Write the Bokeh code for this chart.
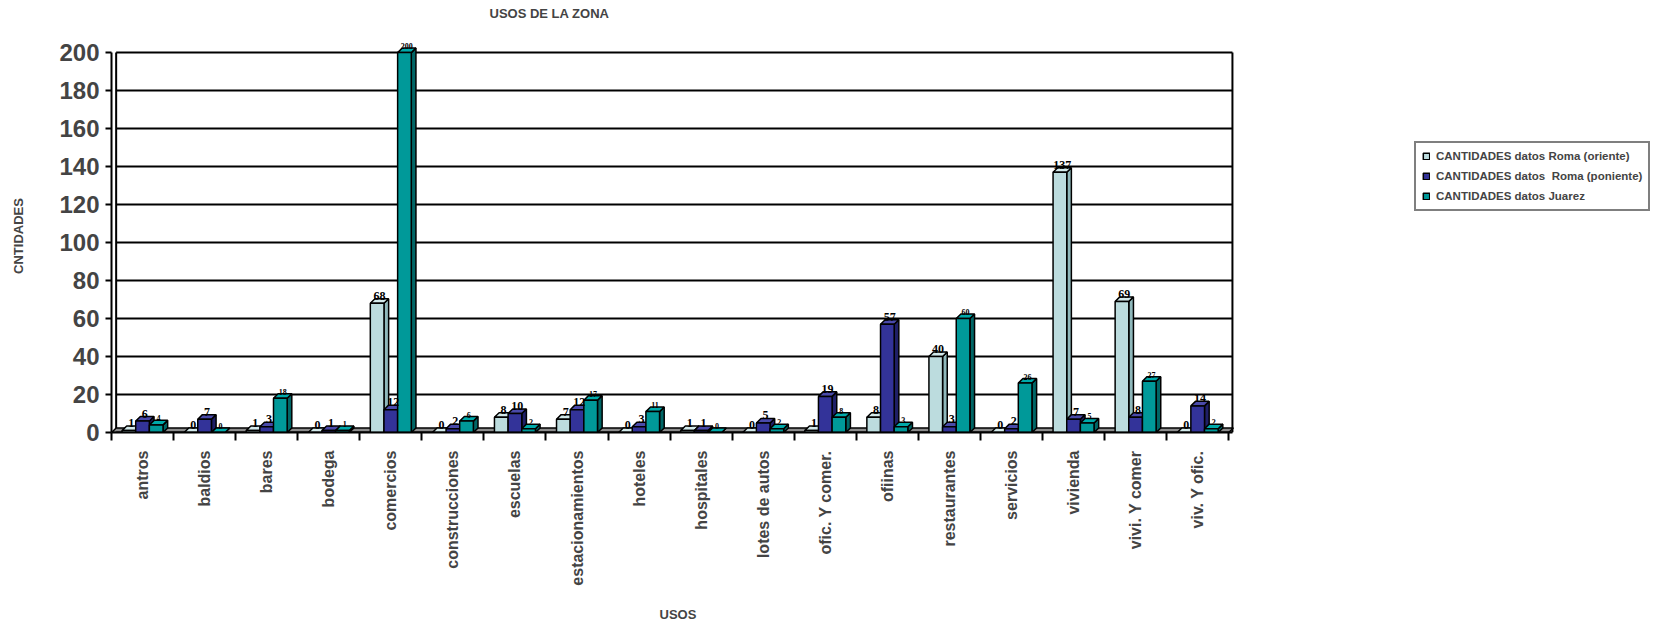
import numpy as np
from bokeh.plotting import figure
from bokeh.models import (ColumnDataSource, Range1d, FixedTicker, Legend,
                          LegendItem, Title, LabelSet)
from bokeh.embed import file_html
from bokeh.resources import INLINE

# Land uses per zone
usos = ["antros", "baldios", "bares", "bodega", "comercios", "construcciones",
        "escuelas", "estacionamientos", "hoteles", "hospitales", "lotes de autos",
        "ofic. Y comer.", "ofiinas", "restaurantes", "servicios", "vivienda",
        "vivi. Y comer", "viv. Y ofic."]
roma_oriente = [1, 0, 1, 0, 68, 0, 8, 7, 0, 1, 0, 1, 8, 40, 0, 137, 69, 0]
roma_poniente = [6, 7, 3, 1, 12, 2, 10, 12, 3, 1, 5, 19, 57, 3, 2, 7, 8, 14]
juarez = [4, 0, 18, 1, 200, 6, 2, 17, 11, 0, 2, 8, 3, 60, 26, 5, 27, 2]
series_names = ["CANTIDADES datos Roma (oriente)",
                "CANTIDADES datos  Roma (poniente)",
                "CANTIDADES datos Juarez"]
y_ticks = [0, 20, 40, 60, 80, 100, 120, 140, 160, 180, 200]

FONT = "Liberation Sans"
n = len(usos)
xc = np.arange(n)
bw = 0.22            # bar width (category units)
dx, dy = 0.075, 2.4  # depth of the pseudo-3D faces
x_end = n - 0.44     # right wall of the chart box
y_top = y_ticks[-1]

# The plotting frame runs to the right edge of the page so the legend can
# sit beside the chart box, and a little above the top gridline so the
# tallest bar keeps its label; the box itself is drawn explicitly.
p = figure(width=1654, height=622, output_backend="svg", toolbar_location=None,
           x_range=Range1d(-0.5, 24.36), y_range=Range1d(0, 206.9),
           min_border_left=111, min_border_right=0, min_border_top=39,
           min_border_bottom=190)
p.background_fill_color = "white"
p.border_fill_color = "white"
p.outline_line_color = None
p.xgrid.visible = False
p.ygrid.visible = False

# floor
p.patch([-0.5, n - 0.5, n - 0.5 + dx, -0.5 + dx], [0, 0, dy, dy],
        fill_color="#8c8c8c", line_color="black", line_width=1.5)
# back wall gridlines, left wall edge and right edge of the box
p.segment(x0=[-0.5 + dx] * len(y_ticks), y0=y_ticks,
          x1=[x_end] * len(y_ticks), y1=y_ticks, line_color="black", line_width=2)
p.segment(x0=[-0.5 + dx, x_end], y0=[dy, 0], x1=[-0.5 + dx, x_end], y1=[y_top, y_top],
          line_color="black", line_width=2)

styles = [
    (roma_oriente, "#bcdcde", "#8fb8bb", "#d3eaeb", "12px"),
    (roma_poniente, "#333399", "#1f1f66", "#4a4aaa", "12px"),
    (juarez, "#009999", "#006666", "#00aaaa", "8px"),
]
offsets = [-bw, 0.0, bw]
items = []
label_sets = []
for (vals, front, side, top, lfs), off, name in zip(styles, offsets, series_names):
    x = xc + off
    v = np.array(vals, dtype=float)
    left = x - bw / 2
    right = x + bw / 2
    side_xs = [[r, r + dx, r + dx, r] for r in right]
    side_ys = [[0, dy, h + dy, h] for h in v]
    top_xs = [[l, l + dx, r + dx, r] for l, r in zip(left, right)]
    top_ys = [[h, h + dy, h + dy, h] for h in v]
    p.patches(side_xs, side_ys, fill_color=side, line_color="black", line_width=1.5)
    p.patches(top_xs, top_ys, fill_color=top, line_color="black", line_width=1.5)
    src = ColumnDataSource(dict(x=x, top=v, lx=x + dx / 2, ly=v + dy,
                                txt=[str(int(h)) for h in v]))
    r = p.vbar(x="x", top="top", bottom=0, width=bw, source=src,
               fill_color=front, line_color="black", line_width=1.5)
    items.append(LegendItem(label=name, renderers=[r]))
    label_sets.append(LabelSet(x="lx", y="ly", text="txt", source=src,
                               text_align="center", text_baseline="bottom",
                               text_font=FONT, text_font_style="bold",
                               text_font_size=lfs, text_color="black",
                               y_offset=-1))

# value labels go on top of every bar
for ls in label_sets:
    p.add_layout(ls)

# y axis
p.yaxis.ticker = FixedTicker(ticks=y_ticks)
p.yaxis.bounds = (0, y_top)
p.yaxis.axis_line_color = "black"
p.yaxis.axis_line_width = 2
p.yaxis.major_tick_line_color = "black"
p.yaxis.major_tick_line_width = 2
p.yaxis.major_tick_out = 6
p.yaxis.major_tick_in = 0
p.yaxis.minor_tick_line_color = None
p.yaxis.major_label_text_font = FONT
p.yaxis.major_label_text_font_style = "bold"
p.yaxis.major_label_text_font_size = "24px"
p.yaxis.major_label_standoff = 6
p.yaxis.axis_label = "CNTIDADES"
p.yaxis.axis_label_text_font = FONT
p.yaxis.axis_label_text_font_style = "bold"
p.yaxis.axis_label_text_font_size = "13px"
p.yaxis.axis_label_standoff = 30

# x axis: labels at category centres, ticks at category boundaries
p.xaxis.ticker = FixedTicker(ticks=list(range(n)),
                             minor_ticks=[i - 0.5 for i in range(n + 1)])
p.xaxis.bounds = (-0.5, x_end)
p.xaxis.major_label_overrides = {i: u for i, u in enumerate(usos)}
p.xaxis.major_label_orientation = np.pi / 2
p.xaxis.axis_line_color = "black"
p.xaxis.axis_line_width = 2
p.xaxis.major_tick_line_color = None
p.xaxis.major_tick_out = 0
p.xaxis.major_tick_in = 0
p.xaxis.minor_tick_line_color = "black"
p.xaxis.minor_tick_line_width = 2
p.xaxis.minor_tick_out = 8
p.xaxis.minor_tick_in = 0
p.xaxis.major_label_text_font = FONT
p.xaxis.major_label_text_font_style = "bold"
p.xaxis.major_label_text_font_size = "16px"
p.xaxis.major_label_standoff = 10

# x axis title under the chart box (a blank spacer row first)
p.add_layout(Title(text=" ", text_font_size="12px", standoff=0), "below")
p.add_layout(Title(text="USOS", align="left", offset=548,
                   text_font=FONT, text_font_style="bold",
                   text_font_size="13px", standoff=0), "below")

# chart title, lifted above a blank spacer row
p.add_layout(Title(text=" ", text_font_size="13px", standoff=2), "above")
p.add_layout(Title(text="USOS DE LA ZONA", align="left", offset=378,
                   text_font=FONT, text_font_style="bold",
                   text_font_size="13px", standoff=0), "above")

legend = Legend(items=items, location=(1303, 221),
                label_text_font=FONT, label_text_font_style="bold",
                label_text_font_size="11.5px", label_height=14,
                glyph_height=8, glyph_width=8, spacing=6, padding=6,
                margin=0, label_standoff=6,
                border_line_color="black", border_line_width=2,
                background_fill_color="white", background_fill_alpha=1)
p.add_layout(legend)

open("out.html", "w").write(file_html(p, INLINE))
